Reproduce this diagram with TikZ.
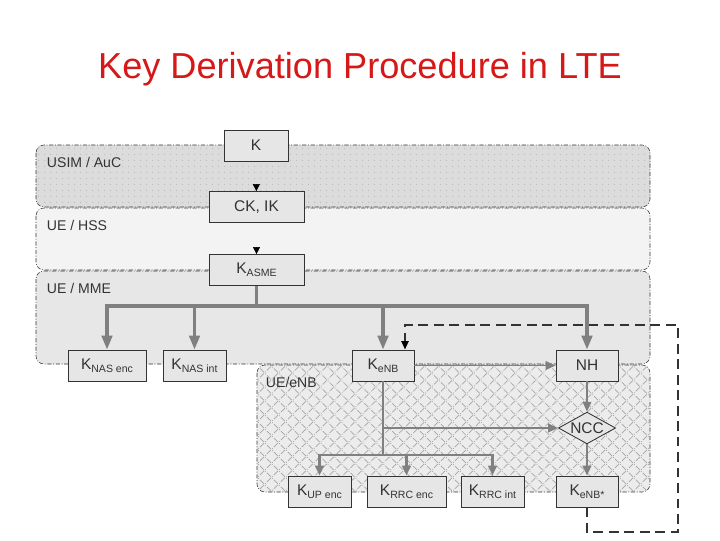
\documentclass[tikz,border=0pt]{standalone}
\usepackage{fontspec}
\setmainfont{Liberation Sans}
\usetikzlibrary{positioning,calc,arrows.meta,patterns.meta,shapes.geometric}
\definecolor{titlered}{RGB}{214,24,24}
\definecolor{boxfill}{RGB}{230,230,230}
\definecolor{flowgray}{RGB}{128,128,128}
\definecolor{textgray}{RGB}{51,51,51}
\definecolor{usimfill}{RGB}{220,220,220}
\definecolor{hssfill}{RGB}{243,243,243}
\definecolor{mmefill}{RGB}{231,231,231}
\definecolor{enbfill}{RGB}{236,236,236}
\newcommand{\ksub}[1]{K{\fontsize{7.5}{8}\selectfont\raisebox{-0.55ex}{#1}}}

\begin{document}
\begin{tikzpicture}[x=0.025cm, y=-0.025cm, font=\fontsize{11}{13}\selectfont,
  band/.style={draw=textgray, line width=0.4pt, rounded corners=0.2cm,
    dash pattern=on 3pt off 1.2pt on 0.6pt off 1.2pt},
  bandlabel/.style={anchor=west, text=textgray, font=\fontsize{10}{12}\selectfont},
  keybox/.style={draw=textgray, fill=boxfill, line width=0.6pt, text=textgray,
    minimum height=0.775cm, inner sep=0pt},
  flow/.style={draw=flowgray, line width=2.3pt, -{Triangle[length=10pt,width=7.5pt]}},
  thinflow/.style={draw=flowgray, line width=1.4pt, -{Triangle[length=7pt,width=6pt]}},
  trunk/.style={draw=flowgray, line width=2.3pt},
  smallarrow/.style={draw=black, line width=0.4pt, shorten <=0.62cm,
    -{Triangle[length=5pt,width=5pt]}},
  feedback/.style={draw=textgray, line width=1.4pt, dash pattern=on 7pt off 4pt,
    -{Triangle[length=6pt,width=5pt,color=black]}}]
  \useasboundingbox[fill=white] (0,0) rectangle (720,540);

  % title
  \node[text=titlered, font=\fontsize{25.7}{30}\selectfont] (title) at (360,69)
    {Key Derivation Procedure in LTE};

  % security domains
  \draw[band, fill=usimfill, postaction={pattern={Dots[distance=4pt,radius=0.35pt]}, pattern color=gray!70}]
    (36,145) rectangle (650,207);
  \draw[band, fill=hssfill] (36,208) rectangle (650,270);
  \draw[band, fill=mmefill] (36,271) rectangle (650,364);
  \draw[band, fill=enbfill,
    postaction={pattern={Lines[angle=45,distance=7pt,line width=0.5pt]}, pattern color=gray!70},
    postaction={pattern={Lines[angle=-45,distance=7pt,line width=0.5pt]}, pattern color=gray!70}]
    (257,365) rectangle (650,492);
  \node[bandlabel] (usim) at (42,162) {USIM / AuC};
  \node[bandlabel] (hss) at (42,225) {UE / HSS};
  \node[bandlabel] (mme) at (42,288) {UE / MME};
  \node[bandlabel] (enb) at (261,382) {UE/eNB};

  % keys
  \node[keybox, minimum width=1.6cm] (K) at (256,145.5) {K};
  \node[keybox, minimum width=2.375cm] (CKIK) at (256.5,207) {CK, IK};
  \node[keybox, minimum width=2.375cm] (KASME) at (256.5,270) {\ksub{ASME}};
  \node[keybox, minimum width=1.95cm] (KNASenc) at (107,365.5) {\ksub{NAS enc}};
  \node[keybox, minimum width=1.575cm] (KNASint) at (194.5,365.5) {\ksub{NAS int}};
  \node[keybox, minimum width=1.55cm] (KeNB) at (383,365.5) {\ksub{eNB}};
  \node[keybox, minimum width=1.55cm] (NH) at (587,365.5) {NH};
  \node[diamond, draw=textgray, fill=boxfill, line width=0.6pt, text=textgray,
    aspect=1.8, inner sep=0.5pt] (NCC) at (587,428) {NCC};
  \node[keybox, minimum width=1.575cm] (KUPenc) at (319.5,491.5) {\ksub{UP enc}};
  \node[keybox, minimum width=1.975cm] (KRRCenc) at (406.5,491.5) {\ksub{RRC enc}};
  \node[keybox, minimum width=1.575cm] (KRRCint) at (492.5,491.5) {\ksub{RRC int}};
  \node[keybox, minimum width=1.55cm] (KeNBstar) at (587,491.5) {\ksub{eNB*}};

  % derivation arrows
  \draw[smallarrow] (K) -- (CKIK);
  \draw[smallarrow] (CKIK) -- (KASME);
  \coordinate (asmesplit) at (KASME.south |- 0,306);
  \draw[trunk] (KASME) -- (asmesplit);
  \foreach \n in {KNASenc,KNASint,KeNB,NH}
    \draw[flow] (asmesplit) -| (\n);
  \draw[thinflow] (KeNB) -- (NH);
  \draw[thinflow] (NH) -- (NCC);
  \draw[thinflow] (NCC) -- (KeNBstar);
  \coordinate (enbsplit) at (KeNB.south |- 0,455);
  \coordinate (nccbranch) at (KeNB.south |- NCC.west);
  \draw[trunk, line width=1.8pt] (KeNB) -- (enbsplit);
  \draw[thinflow] (nccbranch) -- (NCC);
  \foreach \n in {KUPenc,KRRCenc,KRRCint}
    \draw[thinflow, line width=1.8pt] (enbsplit) -| (\n);

  % next hop chaining
  \coordinate (loopbr) at (678,532);
  \coordinate (looptr) at (678,325);
  \coordinate (enbin) at ($(KeNB.north)!0.7!(KeNB.north east)$);
  \draw[feedback] (KeNBstar) |- (loopbr) -- (looptr) -| (enbin);
\end{tikzpicture}
\end{document}
